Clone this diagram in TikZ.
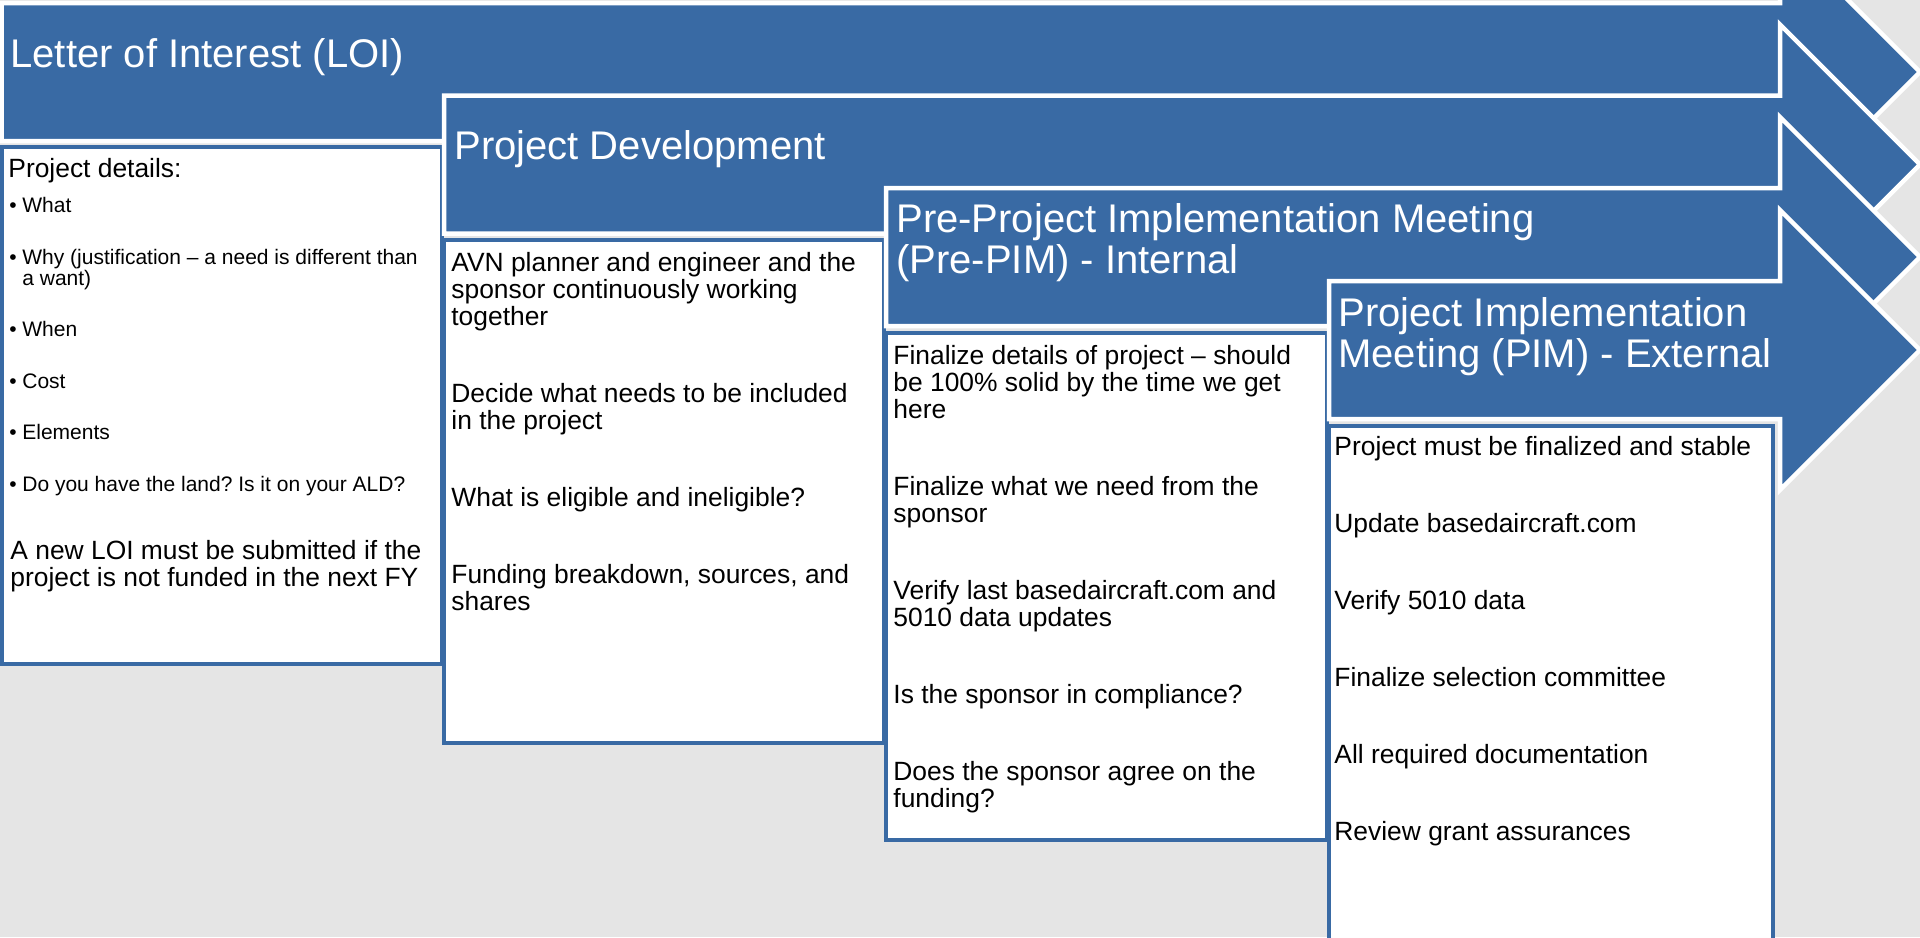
\documentclass[tikz,border=0pt]{standalone}
\usepackage{fontspec}
\setmainfont{Liberation Sans}
\frenchspacing
\definecolor{stageblue}{RGB}{57,106,164}
\definecolor{pagegray}{RGB}{229,229,229}
\newcommand{\titlesize}{\fontsize{20pt}{20.5pt}\selectfont}
\newcommand{\itemsize}{\fontsize{13.2pt}{13.5pt}\selectfont}
\newcommand{\bulletsize}{\fontsize{10.5pt}{10.5pt}\selectfont}
\newcommand{\bul}{\makebox[6.5pt][l]{\textbullet}}
\newcommand{\stagearrow}[2]{%
  \path[stage] (#1,#2-69) -- (1780,#2-69) -- (1780,#2-140) -- (1920,#2)
    -- (1780,#2+140) -- (1780,#2+69) -- (#1,#2+69) -- cycle;}
\tikzset{
  stage/.style={fill=stageblue,draw=white,line width=2.25pt,line join=miter},
  details/.style={fill=white,draw=stageblue,line width=2pt},
  heading/.style={anchor=base west,inner sep=0pt,align=left,text=white,font=\titlesize},
  items/.style={anchor=base west,inner sep=0pt,align=left,font=\itemsize},
  bullets/.style={anchor=base west,inner sep=0pt,align=left,font=\bulletsize}
}
\begin{document}
\begin{tikzpicture}[x=0.5pt,y=-0.5pt]
\useasboundingbox[fill=pagegray] (0,0) rectangle (1920,937);
\clip (0,0) rectangle (1920,937);
% nodes sit on the baseline of their last line
\stagearrow{1.5}{72}
\path[details] (2,147) rectangle (442,664);
\node[heading] (H1) at (10,67) {Letter of Interest (LOI)};
\node[items] (D1) at (8,177) {Project details:};
\node[bullets] (B1) at (9,491) {\bul What\\[15.25pt]\bul Why (justification -- a need is different than\\\hspace*{6.5pt}a want)\\[15.25pt]\bul When\\[15.25pt]\bul Cost\\[15.25pt]\bul Elements\\[15.25pt]\bul Do you have the land? Is it on your ALD?};
\node[items] (N1) at (10,586) {A new LOI must be submitted if the\\project is not funded in the next FY};
\stagearrow{444}{164.5}
\path[details] (444,240) rectangle (884,743);
\node[heading] (H2) at (454,159) {Project Development};
\node[items] (D2) at (451,610) {AVN planner and engineer and the\\sponsor continuously working\\together\\[25pt]Decide what needs to be included\\in the project\\[25pt]What is eligible and ineligible?\\[25pt]Funding breakdown, sources, and\\shares};
\stagearrow{886}{257}
\path[details] (886,333) rectangle (1327,840);
\node[heading] (H3) at (896,273) {Pre-Project Implementation Meeting\\(Pre-PIM) - Internal};
\node[items] (D3) at (893,807) {Finalize details of project -- should\\be 100\% solid by the time we get\\here\\[25pt]Finalize what we need from the\\sponsor\\[25pt]Verify last basedaircraft.com and\\5010 data updates\\[25pt]Is the sponsor in compliance?\\[25pt]Does the sponsor agree on the\\funding?};
\stagearrow{1329}{350}
\path[details] (1329,426) rectangle (1773,990);
\node[heading] (H4) at (1338,367) {Project Implementation\\Meeting (PIM) - External};
\node[items] (D4) at (1334,840) {Project must be finalized and stable\\[25pt]Update basedaircraft.com\\[25pt]Verify 5010 data\\[25pt]Finalize selection committee\\[25pt]All required documentation\\[25pt]Review grant assurances};
\end{tikzpicture}
\end{document}
